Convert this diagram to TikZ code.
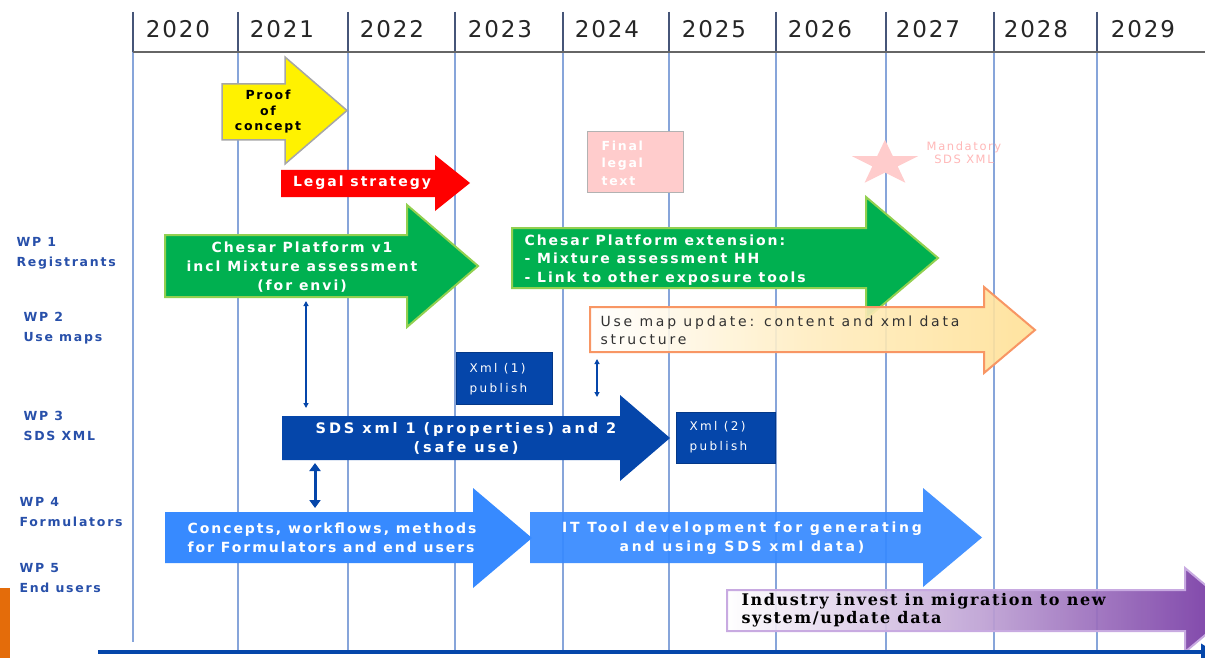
\documentclass[tikz,border=0pt]{standalone}
\usepackage{fontspec}
\setmainfont{DejaVu Sans}
\newfontfamily\widesans[LetterSpace=14]{DejaVu Sans}
\newfontfamily\widersans[LetterSpace=20]{DejaVu Sans}
\newfontfamily\yearfont[LetterSpace=8]{DejaVu Sans}
\newfontfamily\industryfont[LetterSpace=10]{DejaVu Serif}
\usetikzlibrary{arrows.meta}
\definecolor{vline}{RGB}{135,165,218}
\definecolor{vtop}{RGB}{70,85,120}
\definecolor{wpblue}{RGB}{40,80,170}
\definecolor{darkblue}{RGB}{5,70,170}
\definecolor{lightblue}{RGB}{55,138,255}
\definecolor{greenfill}{RGB}{0,176,80}
\definecolor{greenedge}{RGB}{146,208,80}
\definecolor{pinkc}{RGB}{255,204,204}
\definecolor{usemapfill}{RGB}{255,225,150}
\definecolor{usemapedge}{RGB}{248,150,100}
\definecolor{purplec}{RGB}{112,48,160}
\definecolor{purpleedge}{RGB}{200,170,225}
\definecolor{orangebar}{RGB}{228,108,10}
\definecolor{textgray}{RGB}{50,50,50}
\newcommand{\myarrow}[8]{%
  \path[#1] (#2,#5) -- (#3,#5) -- (#3,#7) -- (#4,{(#7+#8)/2}) -- (#3,#8) -- (#3,#6) -- (#2,#6) -- cycle;}
\tikzset{
  year/.style={font=\yearfont\fontsize{23}{26}\selectfont, text=black!85},
  wplabel/.style={font=\widesans\bfseries\fontsize{12.5}{20}\selectfont, text=wpblue, anchor=west, align=left},
  arrowtext/.style={font=\widesans\bfseries\fontsize{14}{19}\selectfont, text=white, align=center},
  smallbox/.style={fill=darkblue, draw=darkblue!80!black},
  boxtext/.style={font=\widersans\fontsize{12}{20}\selectfont, text=white, anchor=west, align=left},
  dblarrow/.style={darkblue, {Triangle[length=5pt,width=5pt]}-{Triangle[length=5pt,width=5pt]}}
}
\begin{document}
\begin{tikzpicture}[x=1pt,y=-1pt]
\useasboundingbox (0,0) rectangle (1205,658);
\fill[white] (0,0) rectangle (1205,658);
% vertical year lines
\draw[vline, line width=1.4] (133,12) -- (133,642);
\foreach \x in {238,348,455,563,669,776,886,994,1097}
  \draw[vline, line width=1.4] (\x,12) -- (\x,650);
\foreach \x in {133,238,348,455,563,669,776,886,994,1097}
  \draw[vtop, line width=1.3] (\x,12) -- (\x,52);
% header line
\draw[black!60, line width=1.3] (133,52) -- (1205,52);
% year labels
\foreach \x/\y in {178/2020,282/2021,392/2022,500/2023,607/2024,714/2025,820/2026,928/2027,1036/2028,1143/2029}
  \node[year] (y\y) at (\x,29) {\y};
% orange bar
\fill[orangebar] (0,588) rectangle (10,658);
% WP labels
\node[wplabel] (wp1) at (13,253) {WP 1\\Registrants};
\node[wplabel] (wp2) at (20,328) {WP 2\\Use maps};
\node[wplabel] (wp3) at (20,426) {WP 3\\SDS XML};
\node[wplabel] (wp4) at (16,512) {WP 4\\Formulators};
\node[wplabel] (wp5) at (16,578) {WP 5\\End users};
% Proof of concept
\myarrow{fill=yellow, draw=black!35, line width=1.5}{222}{285}{347}{84}{140}{57}{164}
\node[font=\widesans\bfseries\fontsize{12.5}{15.5}\selectfont, align=center] (poc) at (268,112) {Proof\\of\\concept};
% Legal strategy
\myarrow{fill=red}{281}{435}{470}{170}{197}{155}{211}
\node[arrowtext] (legal) at (362,183) {Legal strategy};
% Final legal text
\node[fill=pinkc, draw=black!30, line width=1, minimum width=96, minimum height=61, anchor=north west] (finalbox) at (587,131) {};
\node[font=\widesans\bfseries\fontsize{12.5}{17.5}\selectfont, text=white, anchor=west, align=left] (final) at (598,163) {Final\\legal\\text};
% star
\fill[pinkc, shift={(885,163.5)}, yscale=0.685]
  (-90:34.7) -- (-54:13.3) -- (-18:34.7) -- (18:13.3) -- (54:34.7) -- (90:13.3)
  -- (126:34.7) -- (162:13.3) -- (198:34.7) -- (234:13.3) -- cycle;
\node[font=\widesans\fontsize{11.5}{13}\selectfont, text=pinkc!90!red, align=center] (mand) at (964,153) {Mandatory\\SDS XML};
% Chesar v1
\myarrow{fill=greenfill, draw=greenedge, line width=2}{165}{407}{478}{235}{297}{205}{327}
\node[arrowtext] (chesar1) at (302,267) {Chesar Platform v1\\incl Mixture assessment\\(for envi)};
% Chesar extension
\myarrow{fill=greenfill, draw=greenedge, line width=2}{512}{866}{938}{228}{288}{197}{319}
\node[arrowtext, font=\widesans\bfseries\fontsize{14}{18.5}\selectfont, anchor=west, align=left] (chesar2) at (521,260) {Chesar Platform extension:\\- Mixture assessment HH\\- Link to other exposure tools};
% Use map update
\myarrow{left color=white, right color=usemapfill, middle color=usemapfill!60, draw=usemapedge, line width=2, fill opacity=0.9}{590}{984}{1035}{307}{352}{287}{373}
\node[font=\widersans\fontsize{14}{18}\selectfont, text=textgray, anchor=west, align=left] (usemap) at (597,330) {Use map update: content and xml data\\structure};
% thin double arrow WP1-WP3
\coordinate (da1t) at (306,301);
\coordinate (da1b) at (306,408);
\draw[dblarrow, line width=1.2] (da1t) -- (da1b);
% thin double arrow near 2024
\coordinate (da2t) at (597,359);
\coordinate (da2b) at (597,397);
\draw[dblarrow, line width=1.2] (da2t) -- (da2b);
% Xml (1) publish
\node[smallbox, minimum width=96, minimum height=52, anchor=north west] (xml1box) at (456,352) {};
\node[boxtext] (xml1) at (466,379) {Xml (1)\\publish};
% SDS xml arrow
\myarrow{fill=darkblue}{282}{620}{670}{416}{460}{395}{481}
\node[arrowtext, font=\widersans\bfseries\fontsize{14.5}{19}\selectfont] (sds) at (466,438) {SDS xml 1 (properties) and 2\\(safe use)};
% Xml (2) publish
\node[smallbox, minimum width=99, minimum height=51, anchor=north west] (xml2box) at (676,412) {};
\node[boxtext] (xml2) at (686,437) {Xml (2)\\publish};
% thick double arrow WP3-WP4
\coordinate (da3t) at (315,463);
\coordinate (da3b) at (315,508);
\draw[darkblue, line width=3, {Triangle[length=8pt,width=11pt]}-{Triangle[length=8pt,width=11pt]}] (da3t) -- (da3b);
% Concepts arrow
\myarrow{fill=lightblue}{165}{473}{532}{512}{563}{488}{588}
\node[arrowtext, anchor=west, align=left] (concepts) at (184,538) {Concepts, workflows, methods\\for Formulators and end users};
% IT Tool arrow
\myarrow{fill=lightblue, fill opacity=0.93}{530}{923}{982}{512}{563}{488}{587}
\node[arrowtext, font=\widersans\bfseries\fontsize{14}{19}\selectfont] (ittool) at (742,538) {IT Tool development for generating\\and using SDS xml data)};
% Industry arrow
\myarrow{left color=white, right color=purplec, middle color=purplec!45, draw=purpleedge, line width=2, fill opacity=0.92}{727}{1185}{1235}{590}{631}{568}{652}
\node[font=\industryfont\bfseries\fontsize{16}{18}\selectfont, text=black, anchor=west, align=left] (industry) at (738,610) {Industry invest in migration to new\\system/update data};
% bottom axis
\coordinate (axl) at (98,652);
\coordinate (axr) at (1215,652);
\draw[darkblue, line width=4, -{Triangle[length=14pt,width=16pt]}] (axl) -- (axr);
\end{tikzpicture}
\end{document}
